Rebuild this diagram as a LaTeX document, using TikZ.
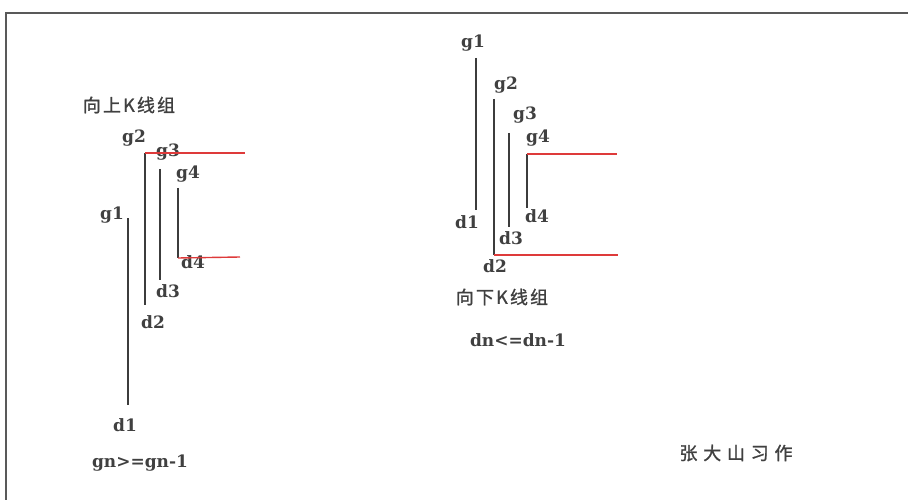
\documentclass[tikz,border=0pt]{standalone}
\usepackage{fontspec}
\setmainfont{DejaVu Serif}
\newfontfamily\cjk[LetterSpace=12, FakeBold=1.2]{Noto Sans CJK SC}
\newfontfamily\cjkwide[LetterSpace=32, FakeBold=1.2]{Noto Sans CJK SC}
\usepackage{tikz}
\usetikzlibrary{positioning}

\definecolor{klinered}{RGB}{222,58,58}
\definecolor{klinegray}{RGB}{60,60,60}

\begin{document}
\begin{tikzpicture}[
    x=1pt, y=-1pt,
    frame/.style={line width=2pt, draw=black!65},
    kbar/.style={line width=1.4pt, klinegray},
    kred/.style={line width=1.4pt, klinered},
    lbl/.style={font=\bfseries\fontsize{17}{19}\selectfont, text=black!75, inner sep=0pt},
    title/.style={font=\cjk\fontsize{18}{20}\selectfont, text=black!75, inner sep=0pt}
]
\useasboundingbox (0,0) rectangle (908,500);

% --- frame ---
\draw[frame] (908,13) -- (6,13) -- (6,500);

% --- upward group: bar ends ---
\coordinate (u1g) at (128,218);  \coordinate (u1d) at (128,405);
\coordinate (u2g) at (145,153);  \coordinate (u2d) at (145,305);
\coordinate (u3g) at (160,169);  \coordinate (u3d) at (160,280);
\coordinate (u4g) at (178,188);  \coordinate (u4d) at (178,258);
\coordinate (uhi) at (245,153);  \coordinate (ulo) at (240,257);

% --- upward group: labels ---
\node[title] (uptitle) at (129,105) {向上K线组};
\node[lbl] (lu1g) at (112,215) {g1};
\node[lbl] (lu1d) at (125,425) {d1};
\node[lbl] (lu2g) at (134,138) {g2};
\node[lbl] (lu2d) at (153,322) {d2};
\node[lbl] (lu3g) at (168,152) {g3};
\node[lbl] (lu3d) at (168,291) {d3};
\node[lbl] (lu4g) at (188,174) {g4};
\node[lbl] (lu4d) at (193,262) {d4};
\node[lbl] (upcond) at (140,463) {gn>=gn-1};

% --- upward group: bars ---
\draw[kbar] (u1g) -- (u1d);
\draw[kbar] (u2g) -- (u2d);
\draw[kbar] (u3g) -- (u3d);
\draw[kbar] (u4g) -- (u4d);
\draw[kred] (u2g) -- (uhi);
\draw[kred] (u4d) -- (ulo);

% --- downward group: bar ends ---
\coordinate (d1g) at (476,58);   \coordinate (d1d) at (476,210);
\coordinate (d2g) at (494,99);   \coordinate (d2d) at (494,255);
\coordinate (d3g) at (509,133);  \coordinate (d3d) at (509,227);
\coordinate (d4g) at (527,154);  \coordinate (d4d) at (527,208);
\coordinate (dhi) at (617,154);  \coordinate (dlo) at (618,255);

% --- downward group: labels ---
\node[lbl] (ld1g) at (473,43) {g1};
\node[lbl] (ld1d) at (467,222) {d1};
\node[lbl] (ld2g) at (506,85) {g2};
\node[lbl] (ld2d) at (495,266) {d2};
\node[lbl] (ld3g) at (525,115) {g3};
\node[lbl] (ld3d) at (511,238) {d3};
\node[lbl] (ld4g) at (538,138) {g4};
\node[lbl] (ld4d) at (537,216) {d4};
\node[title] (downtitle) at (502,297) {向下K线组};
\node[lbl] (downcond) at (518,340) {dn<=dn-1};

% --- downward group: bars ---
\draw[kbar] (d1g) -- (d1d);
\draw[kbar] (d2g) -- (d2d);
\draw[kbar] (d3g) -- (d3d);
\draw[kbar] (d4g) -- (d4d);
\draw[kred] (d4g) -- (dhi);
\draw[kred] (d2d) -- (dlo);

% --- signature ---
\node[title, font=\cjkwide\fontsize{18}{20}\selectfont] (sign) at (736,453) {张大山习作};

\end{tikzpicture}
\end{document}
